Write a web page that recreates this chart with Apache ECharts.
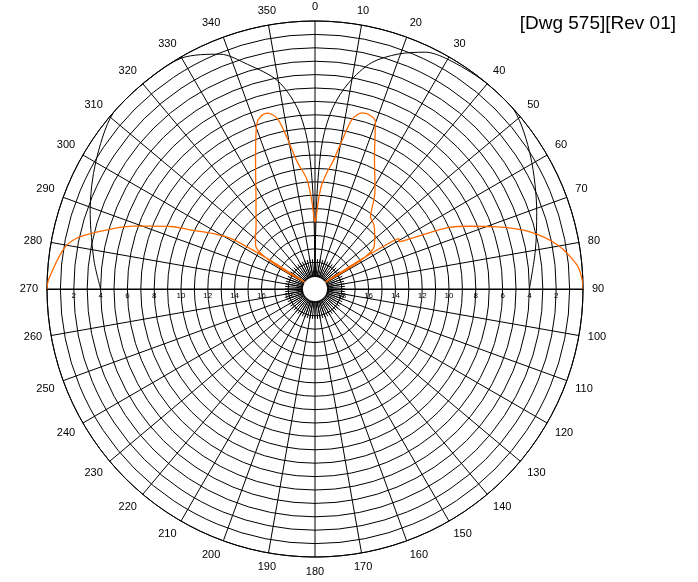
<!DOCTYPE html>
<html>
<head>
<meta charset="utf-8">
<script src="https://cdn.jsdelivr.net/npm/echarts@6/dist/echarts.min.js"></script>
<style>
html,body{margin:0;padding:0;background:#fff;}
#chart{width:698px;height:582px;}
</style>
</head>
<body>
<div id="chart"></div>
<script>
// Angle ticks (compass degrees, clockwise from top)
var angleTicks = [0,10,20,30,40,50,60,70,80,90,100,110,120,130,140,150,160,170,180,190,200,210,220,230,240,250,260,270,280,290,300,310,320,330,340,350];
// Radial labels (dB down from the outer ring)
var radialLabels = [2,4,6,8,10,12,14,16,18];

// Orange pattern: [angle, dB down]
var orangeAngles = [270,272,279,282,284.5,289,291,293.5,295.5,298.5,301,302.5,303.5,304.3,305.4,310,317.4,326.6,335.5,340.4,342.5,344.9,347.6,349.6,352,355.8,358,359,0,1,2,3.5,6,8,10.5,12.4,15,17.5,19.8,24.5,31,33.4,37.5,42.6,49,54.6,55.7,56.5,57.5,59,60.7,65.3,68,71.2,75.1,79.7,84.8,88,90];
var orangeValues = [0,0.1,1.0,1.8,3.1,5.6,6.9,8.3,9.8,11.3,12.7,15.5,18.5,19.2,14.6,14.2,13.5,12.0,9.3,7.0,6.5,6.4,7.0,8.6,10.4,11.8,13.5,14.5,15,14.6,13.6,12.3,11.2,10.4,8.6,7.0,6.4,6.4,6.7,9.3,11.3,12.0,13.2,13.5,14.1,14.6,19.2,18.5,15.5,12.7,12.8,9.0,7.5,5.6,3.4,1.6,0.36,0.05,0];

// Black pattern: [angle, dB down]
var blackAngles = [270,277,284.8,289.5,300,311,321,330,338,343.3,349.8,354.4,357,358.5,359.3,0,0.7,1.5,3,5.6,9.3,14,19.5,25,30,39,48,58.3,71,80,90];
var blackValues = [4.0,3.4,2.7,2.2,1.1,0.02,0.02,0.1,1.1,2.5,4.2,6.4,8.8,12,15.5,19.5,15.5,12,8.8,6.4,4.4,2.6,1.4,0.5,0.2,0.02,0.02,1.1,2.5,3.3,4.0];

var CX = 315, CY = 289, R = 268, HOLE = 12;

function pairs(a, v){ var out=[]; for(var i=0;i<a.length;i++){ out.push([v[i], a[i]]); } return out; }

var chart = echarts.init(document.getElementById('chart'), null, {renderer:'canvas'});
var font = 'Liberation Sans, Arial, sans-serif';
var labelSet = {}; radialLabels.forEach(function(v){labelSet[v]=true;});
var angleSet = {}; angleTicks.forEach(function(v){angleSet[v]=true;});

var option = {
  animation:false,
  backgroundColor:'#fff',
  title:{ text:'[Dwg 575][Rev 01]', right:17, top:9,
    textStyle:{ fontFamily:font, fontSize:19, fontWeight:'normal', color:'#000' } },
  polar:[
    {center:[CX,CY], radius:[0,R]},
    {center:[CX,CY], radius:[0,30]},
    {center:[CX,CY], radius:[0,R]},
    {center:[CX,CY], radius:[0,R]}
  ],
  angleAxis:[
    {polarIndex:0, type:'value', min:0, max:360, interval:10, startAngle:90, clockwise:true,
     axisLine:{show:true, lineStyle:{color:'#000', width:1}},
     axisTick:{show:false},
     axisLabel:{show:true, margin:9, color:'#000', fontFamily:font, fontSize:11,
       formatter:function(v){ return angleSet[v] ? String(v) : ''; }},
     splitLine:{show:true, lineStyle:{color:'#000', width:1}}},
    {polarIndex:1, type:'value', min:0, max:360, interval:5, startAngle:90, clockwise:true,
     axisLine:{show:false}, axisTick:{show:false}, axisLabel:{show:false},
     splitLine:{show:true, lineStyle:{color:'#000', width:1}}},
    {polarIndex:2, type:'value', min:0, max:360, startAngle:180, show:false},
    {polarIndex:3, type:'value', min:0, max:360, startAngle:0, show:false}
  ],
  radiusAxis:[
    {polarIndex:0, type:'value', min:0, max:20, interval:1, inverse:true,
     axisLine:{show:false}, axisTick:{show:false}, axisLabel:{show:false},
     splitLine:{show:true, lineStyle:{color:'#000', width:1}}},
    {polarIndex:1, type:'value', min:0, max:20, show:false},
    {polarIndex:2, type:'value', min:0, max:20, interval:2, inverse:true,
     axisLine:{show:true, lineStyle:{color:'#000', width:1}}, axisTick:{show:false},
     splitLine:{show:false},
     axisLabel:{show:true, margin:3, color:'#000', fontFamily:font, fontSize:8,
       formatter:function(v){ return labelSet[v] ? String(v) : ''; }}},
    {polarIndex:3, type:'value', min:0, max:20, interval:2, inverse:true,
     axisLine:{show:true, lineStyle:{color:'#000', width:1}}, axisTick:{show:false},
     splitLine:{show:false},
     axisLabel:{show:true, margin:-11, color:'#000', fontFamily:font, fontSize:8,
       formatter:function(v){ return labelSet[v] ? String(v) : ''; }}}
  ],
  series:[
    {type:'line', coordinateSystem:'polar', polarIndex:0, data:pairs(blackAngles, blackValues),
     symbol:'none', smooth:0.3, lineStyle:{color:'#000', width:1}, z:3},
    {type:'line', coordinateSystem:'polar', polarIndex:0, data:pairs(orangeAngles, orangeValues),
     symbol:'none', smooth:0.3, lineStyle:{color:'#FF6A00', width:1.3}, z:4}
  ],
  graphic:[
    {type:'circle', shape:{cx:CX, cy:CY, r:HOLE}, style:{fill:'#fff'}, z:100}
  ]
};
chart.setOption(option);
</script>
</body>
</html>
